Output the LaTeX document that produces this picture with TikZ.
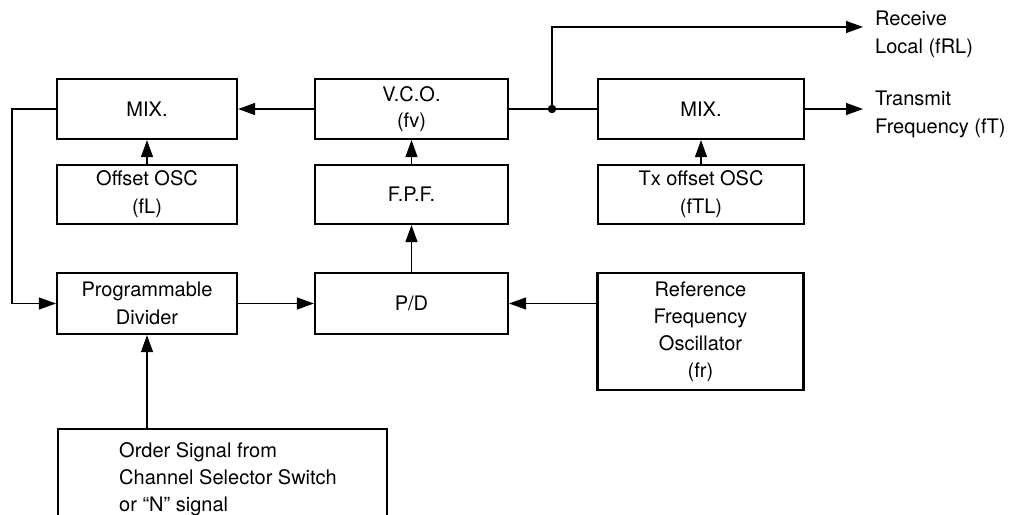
\documentclass[tikz,border=0pt]{standalone}
\usepackage{fontspec}
\setmainfont{TeX Gyre Heros}
\usetikzlibrary{arrows.meta}
\tikzset{
  blk/.style={draw, line width=2.2pt, inner sep=0pt, align=center, font=\fontsize{20}{28}\selectfont},
  lbl/.style={inner sep=0pt, align=left, font=\fontsize{20}{28}\selectfont},
  conn/.style={line width=1.3pt},
  arr/.style={conn, -{Triangle[length=17pt,width=12pt]}},
}
\begin{document}
\begin{tikzpicture}[x=1pt,y=-1pt]
\useasboundingbox (0,0) rectangle (1016,514);
\clip (0,0) rectangle (1016,514);
% top row
\node[blk, minimum width=180pt, minimum height=60pt] (mixL) at (147,109) {MIX.};
\node[blk, minimum width=193pt, minimum height=60pt] (vco) at (411.5,109) {V.C.O.\\[-2pt](fv)};
\node[blk, minimum width=206pt, minimum height=60pt] (mixR) at (701,109) {MIX.};
% second row
\node[blk, minimum width=180pt, minimum height=59pt] (offL) at (147,194.5) {Offset OSC\\(fL)};
\node[blk, minimum width=193pt, minimum height=59pt] (fpf) at (411.5,194.5) {F.P.F.};
\node[blk, minimum width=206pt, minimum height=59pt] (txoff) at (701,194.5) {Tx offset OSC\\(fTL)};
% third row
\node[blk, minimum width=180pt, minimum height=61pt] (prog) at (147,303.5) {Programmable\\Divider};
\node[blk, minimum width=193pt, minimum height=61pt] (pd) at (411.5,303.5) {P/D};
\node[blk, minimum width=206pt, minimum height=117pt] (ref) at (700.5,331.5) {Reference\\[-1pt]Frequency\\[-1pt]Oscillator\\[-1pt](fr)};
% order box
\node[blk, minimum width=329pt, minimum height=92pt, anchor=north west] (order) at (57,428) {};
\node[lbl, anchor=west, font=\fontsize{20}{27}\selectfont] (ordertxt) at (119,479) {Order Signal from\\Channel Selector Switch\\or “N” signal};
% coordinates
\coordinate (j) at (552,109);
\coordinate (rx) at (863,27);
\coordinate (tx) at (863,109);
\coordinate (fb) at (12,109);
% labels
\node[lbl, anchor=west] (rxl) at (875,34) {Receive\\Local (fRL)};
\node[lbl, anchor=west] (txl) at (875,114) {Transmit\\Frequency (fT)};
% connectors
\draw[arr] (vco.west) -- (mixL.east);
\draw[conn] (vco.east) -- (mixR.west);
\fill (j) circle (4.2pt);
\draw[arr] (j) |- (rx);
\draw[arr] (mixR.east) -- (tx);
\draw[arr] (offL.north) -- (mixL.south);
\draw[arr] (fpf.north) -- (vco.south);
\draw[arr] (txoff.north) -- (mixR.south);
\draw[arr] (pd.north) -- (fpf.south);
\draw[arr] (prog.east) -- (pd.west);
\draw[arr] (ref.west |- pd.east) -- (pd.east);
\draw[arr] (order.north -| prog.south) -- (prog.south);
\draw[arr] (mixL.west) -- (fb) |- (prog.west);
\end{tikzpicture}
\end{document}
